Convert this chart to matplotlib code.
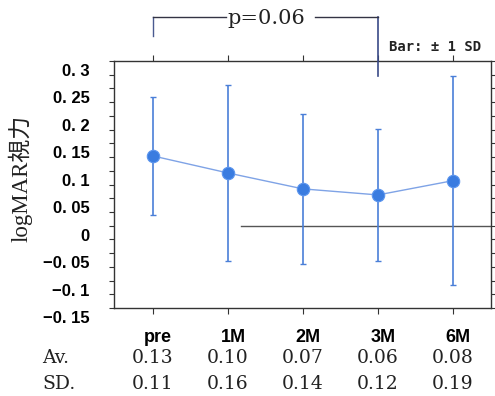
import matplotlib
matplotlib.use('Agg')
import matplotlib.pyplot as plt
import matplotlib.transforms as mtransforms
import numpy as np

categories = ['pre', '1M', '2M', '3M', '6M']
means = [0.127, 0.096, 0.067, 0.056, 0.082]
sds = [0.107, 0.160, 0.137, 0.121, 0.190]
av_labels = ['0.13', '0.10', '0.07', '0.06', '0.08']
sd_labels = ['0.11', '0.16', '0.14', '0.12', '0.19']
ytick_vals = [0.3, 0.25, 0.2, 0.15, 0.1, 0.05, 0.0, -0.05, -0.1, -0.15]
ytick_labels = ['0. 3', '0. 25', '0. 2', '0. 15', '0. 1', '0. 05', '0',
                '\u22120. 05', '\u22120. 1', '\u22120. 15']
p_text = 'p=0.06'
bar_note = 'Bar: \u00b1 1 SD'
ylabel = 'logMAR視力'

W, H = 495, 396
fig = plt.figure(figsize=(W / 100, H / 100), dpi=100)
ax = fig.add_axes([114 / W, 1 - 308 / H, 377 / W, 247 / H])

x = np.arange(len(categories))
line_c = '#7fa3e6'
err_c = '#4a7fd8'
ax.plot(x, means, color=line_c, lw=1.0, zorder=2)
ax.errorbar(x, means, yerr=sds, fmt='none', ecolor=err_c, elinewidth=1.2,
            capsize=2.5, capthick=1.0, zorder=3)
ax.scatter(x, means, s=80, color='#3a7ce0', edgecolor='#5b95ee', linewidth=0.8, zorder=4)

ax.axhline(0, xmin=0.337, xmax=1.0, color='#555555', lw=1.0, zorder=1)

ax.set_xlim(-0.52, 4.507)
ax.set_ylim(-0.15, 0.3)

for s in ax.spines.values():
    s.set_color('#333333')
    s.set_linewidth(1.0)

# y ticks
ax.set_yticks(ytick_vals)
ax.set_yticklabels(ytick_labels, fontfamily='Liberation Sans', fontweight='bold', fontsize=12)
ax.set_yticks(np.arange(-0.15, 0.3001, 0.025), minor=True)
ax.tick_params(axis='y', which='both', direction='out', length=3.5, width=0.8,
               color='#333333', right=True, pad=14)
ax.tick_params(axis='y', which='minor', labelleft=False)
off = mtransforms.ScaledTranslation(0, -9 / 100, fig.dpi_scale_trans)
for lab in ax.get_yticklabels():
    lab.set_transform(lab.get_transform() + off)

# x ticks
ax.set_xticks(x)
ax.set_xticklabels(categories, fontfamily='Liberation Sans',
                   fontweight='bold', fontsize=13)
ax.tick_params(axis='x', direction='out', length=4, width=0.8, color='#333333',
               pad=11, top=True)
offx = mtransforms.ScaledTranslation(5 / 100, 0, fig.dpi_scale_trans)
for lab in ax.get_xticklabels():
    lab.set_transform(lab.get_transform() + offx)

# Table rows below
tr = mtransforms.blended_transform_factory(ax.transData, fig.transFigure)
serif = 'DejaVu Serif'
for i in range(len(categories)):
    fig.text(x[i], 1 - 358 / H, av_labels[i], transform=tr, ha='center', va='center',
             fontfamily=serif, fontsize=13.5, color='#222222')
    fig.text(x[i], 1 - 384 / H, sd_labels[i], transform=tr, ha='center', va='center',
             fontfamily=serif, fontsize=13.5, color='#222222')
fig.text(42 / W, 1 - 358 / H, 'Av.', ha='left', va='center', fontfamily=serif,
         fontsize=13.5, color='#222222')
fig.text(42 / W, 1 - 384 / H, 'SD.', ha='left', va='center', fontfamily=serif,
         fontsize=13.5, color='#222222')

# y label
fig.text(20 / W, 1 - 178 / H, ylabel, rotation=90, ha='center', va='center',
         fontfamily=['Liberation Serif', 'Noto Sans CJK JP'], fontsize=16.5, color='#222222')

# bracket with p value
ytop = 1 - 17 / H
bc = '#333344'
lines = [
    ([0, 0], [1 - 36 / H, ytop], '#4a5a90'),
    ([0, 0.97], [ytop, ytop], bc),
    ([2.16, 3], [ytop, ytop], bc),
]
for xs, ys, c in lines:
    fig.add_artist(plt.Line2D(xs, ys, transform=tr, color=c, lw=1.0, clip_on=False))
# right vertical going into the axes
ytop_data = ax.transData.inverted().transform(fig.transFigure.transform((0, ytop)))[1]
ax.plot([3, 3], [0.273, ytop_data], color='#3a4a88', lw=1.2, clip_on=False, zorder=5)
fig.text(1.51, 1 - 19 / H, p_text, transform=tr, ha='center', va='center',
         fontfamily=serif, fontsize=15, color='#222222')

fig.text(389 / W, 1 - 47 / H, bar_note, ha='left', va='center',
         fontfamily='DejaVu Sans Mono', fontweight='bold', fontsize=10, color='#222222')

fig.savefig('out.png', dpi=100)
